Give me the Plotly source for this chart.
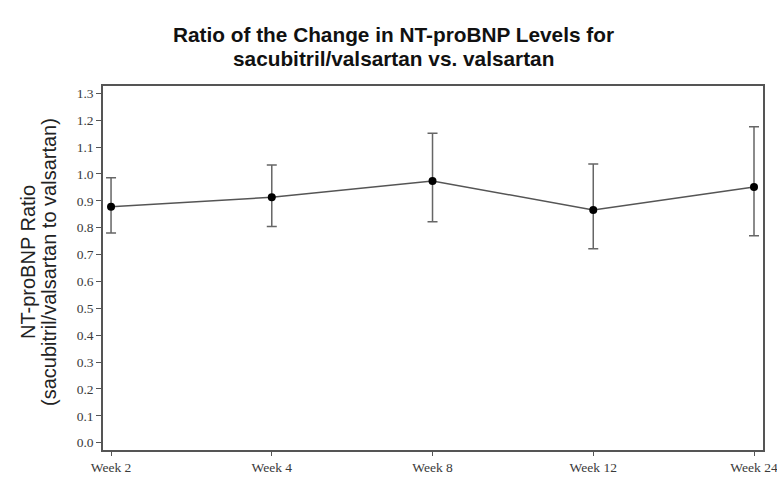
import plotly.graph_objects as go

weeks = ["Week 2", "Week 4", "Week 8", "Week 12", "Week 24"]
ratio = [0.878, 0.913, 0.974, 0.866, 0.951]
upper = [0.986, 1.033, 1.151, 1.037, 1.175]
lower = [0.780, 0.804, 0.822, 0.722, 0.770]
y_ticks = [round(i * 0.1, 1) for i in range(14)]
title_lines = ["Ratio of the Change in NT-proBNP Levels for", "sacubitril/valsartan vs. valsartan"]
ytitle_lines = ["NT-proBNP Ratio", "(sacubitril/valsartan to valsartan)"]

err_plus = [u - r for u, r in zip(upper, ratio)]
err_minus = [r - l for r, l in zip(ratio, lower)]

fig = go.Figure()
fig.add_trace(go.Scatter(
    x=list(range(len(weeks))), y=ratio, mode="lines+markers",
    line=dict(color="#555555", width=1.5),
    marker=dict(color="black", size=8),
    error_y=dict(type="data", symmetric=False, array=err_plus, arrayminus=err_minus,
                 color="#666666", thickness=1.5, width=5),
    showlegend=False,
))

axis_font = dict(family="Liberation Serif, Times New Roman, serif", size=13.5, color="#3a3a3a")
fig.update_layout(
    width=777, height=481,
    margin=dict(l=103, r=14, t=86, b=31),
    plot_bgcolor="white", paper_bgcolor="white",
    xaxis=dict(
        range=[-0.05, 4.056], tickmode="array", tickvals=list(range(len(weeks))), ticktext=weeks,
        showgrid=False, zeroline=False, showline=True, mirror=True, automargin=False,
        ticklabeloverflow="allow",
        linecolor="#555555", linewidth=1.5, ticks="outside", ticklen=4, tickwidth=1.2,
        tickcolor="#555555", tickfont=axis_font,
    ),
    yaxis=dict(
        range=[-0.027, 1.327], tickmode="array", tickvals=y_ticks,
        ticktext=[f"{v:.1f}" for v in y_ticks],
        showgrid=False, zeroline=False, showline=True, mirror=True, automargin=False,
        ticklabeloverflow="allow",
        linecolor="#555555", linewidth=1.5, ticks="outside", ticklen=5, tickwidth=1.2,
        tickcolor="#555555", tickfont=axis_font,
    ),
)

title_font = dict(family="Liberation Sans, Arial, sans-serif", size=20.8, color="#111111")
for txt, ypx in zip(title_lines, [34, 58]):
    fig.add_annotation(text=f"<b>{txt}</b>", xref="paper", yref="paper",
                       x=(393 - 103) / 660, y=(450 - ypx) / 364,
                       xanchor="center", yanchor="middle", showarrow=False, font=title_font)

ytitle_font = dict(family="Liberation Sans, Arial, sans-serif", size=20, color="#222222")
for txt, xpx in zip(ytitle_lines, [28, 49]):
    fig.add_annotation(text=txt, xref="paper", yref="paper",
                       x=(xpx - 103) / 660, y=(450 - 262) / 364, textangle=-90,
                       xanchor="center", yanchor="middle", showarrow=False, font=ytitle_font)

fig.write_html("out.html")
